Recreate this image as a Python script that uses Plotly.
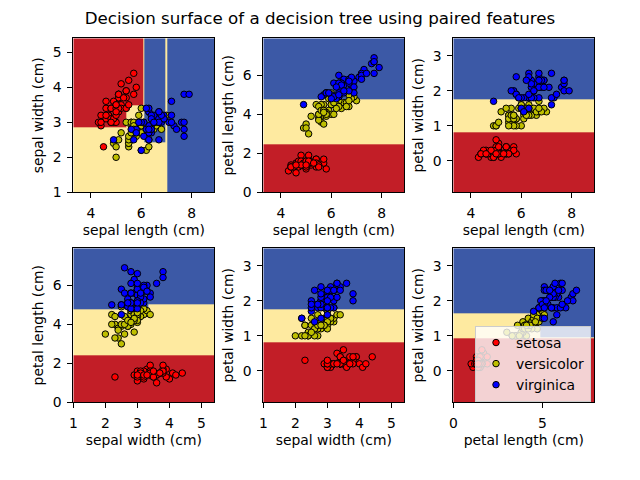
import plotly.graph_objects as go

# ---------------- data: iris dataset ----------------
feature_names = ["sepal length (cm)", "sepal width (cm)", "petal length (cm)", "petal width (cm)"]
species_names = ["setosa", "versicolor", "virginica"]

setosa_sepal_length = [5.1, 4.9, 4.7, 4.6, 5.0, 5.4, 4.6, 5.0, 4.4, 4.9, 5.4, 4.8, 4.8, 4.3, 5.8, 5.7, 5.4, 5.1, 5.7, 5.1,
                       5.4, 5.1, 4.6, 5.1, 4.8, 5.0, 5.0, 5.2, 5.2, 4.7, 4.8, 5.4, 5.2, 5.5, 4.9, 5.0, 5.5, 4.9, 4.4, 5.1,
                       5.0, 4.5, 4.4, 5.0, 5.1, 4.8, 5.1, 4.6, 5.3, 5.0]
setosa_sepal_width = [3.5, 3.0, 3.2, 3.1, 3.6, 3.9, 3.4, 3.4, 2.9, 3.1, 3.7, 3.4, 3.0, 3.0, 4.0, 4.4, 3.9, 3.5, 3.8, 3.8,
                      3.4, 3.7, 3.6, 3.3, 3.4, 3.0, 3.4, 3.5, 3.4, 3.2, 3.1, 3.4, 4.1, 4.2, 3.1, 3.2, 3.5, 3.6, 3.0, 3.4,
                      3.5, 2.3, 3.2, 3.5, 3.8, 3.0, 3.8, 3.2, 3.7, 3.3]
setosa_petal_length = [1.4, 1.4, 1.3, 1.5, 1.4, 1.7, 1.4, 1.5, 1.4, 1.5, 1.5, 1.6, 1.4, 1.1, 1.2, 1.5, 1.3, 1.4, 1.7, 1.5,
                       1.7, 1.5, 1.0, 1.7, 1.9, 1.6, 1.6, 1.5, 1.4, 1.6, 1.6, 1.5, 1.5, 1.4, 1.5, 1.2, 1.3, 1.4, 1.3, 1.5,
                       1.3, 1.3, 1.3, 1.6, 1.9, 1.4, 1.6, 1.4, 1.5, 1.4]
setosa_petal_width = [0.2, 0.2, 0.2, 0.2, 0.2, 0.4, 0.3, 0.2, 0.2, 0.1, 0.2, 0.2, 0.1, 0.1, 0.2, 0.4, 0.4, 0.3, 0.3, 0.3,
                      0.2, 0.4, 0.2, 0.5, 0.2, 0.2, 0.4, 0.2, 0.2, 0.2, 0.2, 0.4, 0.1, 0.2, 0.2, 0.2, 0.2, 0.1, 0.2, 0.2,
                      0.3, 0.3, 0.2, 0.6, 0.4, 0.3, 0.2, 0.2, 0.2, 0.2]

versicolor_sepal_length = [7.0, 6.4, 6.9, 5.5, 6.5, 5.7, 6.3, 4.9, 6.6, 5.2, 5.0, 5.9, 6.0, 6.1, 5.6, 6.7, 5.6, 5.8, 6.2, 5.6,
                           5.9, 6.1, 6.3, 6.1, 6.4, 6.6, 6.8, 6.7, 6.0, 5.7, 5.5, 5.5, 5.8, 6.0, 5.4, 6.0, 6.7, 6.3, 5.6, 5.5,
                           5.5, 6.1, 5.8, 5.0, 5.6, 5.7, 5.7, 6.2, 5.1, 5.7]
versicolor_sepal_width = [3.2, 3.2, 3.1, 2.3, 2.8, 2.8, 3.3, 2.4, 2.9, 2.7, 2.0, 3.0, 2.2, 2.9, 2.9, 3.1, 3.0, 2.7, 2.2, 2.5,
                          3.2, 2.8, 2.5, 2.8, 2.9, 3.0, 2.8, 3.0, 2.9, 2.6, 2.4, 2.4, 2.7, 2.7, 3.0, 3.4, 3.1, 2.3, 3.0, 2.5,
                          2.6, 3.0, 2.6, 2.3, 2.7, 3.0, 2.9, 2.9, 2.5, 2.8]
versicolor_petal_length = [4.7, 4.5, 4.9, 4.0, 4.6, 4.5, 4.7, 3.3, 4.6, 3.9, 3.5, 4.2, 4.0, 4.7, 3.6, 4.4, 4.5, 4.1, 4.5, 3.9,
                           4.8, 4.0, 4.9, 4.7, 4.3, 4.4, 4.8, 5.0, 4.5, 3.5, 3.8, 3.7, 3.9, 5.1, 4.5, 4.5, 4.7, 4.4, 4.1, 4.0,
                           4.4, 4.6, 4.0, 3.3, 4.2, 4.2, 4.2, 4.3, 3.0, 4.1]
versicolor_petal_width = [1.4, 1.5, 1.5, 1.3, 1.5, 1.3, 1.6, 1.0, 1.3, 1.4, 1.0, 1.5, 1.0, 1.4, 1.3, 1.4, 1.5, 1.0, 1.5, 1.1,
                          1.8, 1.3, 1.5, 1.2, 1.3, 1.4, 1.4, 1.7, 1.5, 1.0, 1.1, 1.0, 1.2, 1.6, 1.5, 1.6, 1.5, 1.3, 1.3, 1.3,
                          1.2, 1.4, 1.2, 1.0, 1.3, 1.2, 1.3, 1.3, 1.1, 1.3]

virginica_sepal_length = [6.3, 5.8, 7.1, 6.3, 6.5, 7.6, 4.9, 7.3, 6.7, 7.2, 6.5, 6.4, 6.8, 5.7, 5.8, 6.4, 6.5, 7.7, 7.7, 6.0,
                          6.9, 5.6, 7.7, 6.3, 6.7, 7.2, 6.2, 6.1, 6.4, 7.2, 7.4, 7.9, 6.4, 6.3, 6.1, 7.7, 6.3, 6.4, 6.0, 6.9,
                          6.7, 6.9, 5.8, 6.8, 6.7, 6.7, 6.3, 6.5, 6.2, 5.9]
virginica_sepal_width = [3.3, 2.7, 3.0, 2.9, 3.0, 3.0, 2.5, 2.9, 2.5, 3.6, 3.2, 2.7, 3.0, 2.5, 2.8, 3.2, 3.0, 3.8, 2.6, 2.2,
                         3.2, 2.8, 2.8, 2.7, 3.3, 3.2, 2.8, 3.0, 2.8, 3.0, 2.8, 3.8, 2.8, 2.8, 2.6, 3.0, 3.4, 3.1, 3.0, 3.1,
                         3.1, 3.1, 2.7, 3.2, 3.3, 3.0, 2.5, 3.0, 3.4, 3.0]
virginica_petal_length = [6.0, 5.1, 5.9, 5.6, 5.8, 6.6, 4.5, 6.3, 5.8, 6.1, 5.1, 5.3, 5.5, 5.0, 5.1, 5.3, 5.5, 6.7, 6.9, 5.0,
                          5.7, 4.9, 6.7, 4.9, 5.7, 6.0, 4.8, 4.9, 5.6, 5.8, 6.1, 6.4, 5.6, 5.1, 5.6, 6.1, 5.6, 5.5, 4.8, 5.4,
                          5.6, 5.1, 5.1, 5.9, 5.7, 5.2, 5.0, 5.2, 5.4, 5.1]
virginica_petal_width = [2.5, 1.9, 2.1, 1.8, 2.2, 2.1, 1.7, 1.8, 1.8, 2.5, 2.0, 1.9, 2.1, 2.0, 2.4, 2.3, 1.8, 2.2, 2.3, 1.5,
                         2.3, 2.0, 2.0, 1.8, 2.1, 1.8, 1.8, 1.8, 2.1, 1.6, 1.9, 2.0, 2.2, 1.5, 1.4, 2.3, 2.4, 1.8, 1.8, 2.1,
                         2.4, 2.3, 1.9, 2.3, 2.5, 2.3, 1.9, 2.0, 2.3, 1.8]

species_features = [
    [setosa_sepal_length, setosa_sepal_width, setosa_petal_length, setosa_petal_width],
    [versicolor_sepal_length, versicolor_sepal_width, versicolor_petal_length, versicolor_petal_width],
    [virginica_sepal_length, virginica_sepal_width, virginica_petal_length, virginica_petal_width],
]

feature_pairs = [[0, 1], [0, 2], [0, 3], [1, 2], [1, 3], [2, 3]]

# ---------------- decision surfaces (split thresholds + predicted class per cell) ----------------
# class: 0 setosa, 1 versicolor, 2 virginica ; rows = y intervals (bottom->top), cols = x intervals
surface_x_splits = [
    [5.4, 6.08, 6.12, 6.97, 7.05],
    [],
    [],
    [3.35],
    [],
    [4.85],
]
surface_y_splits = [
    [2.42, 2.85, 3.5],
    [2.45, 4.78],
    [0.82, 1.75],
    [2.43, 4.77, 5.05],
    [0.82, 1.75],
    [0.92, 0.96, 1.65],
]
surface_classes = [
    [[1, 1, 1, 1, 1, 2], [1, 1, 1, 2, 1, 2], [0, 1, 1, 2, 1, 2], [0, 0, 1, 2, 1, 2]],
    [[0], [1], [2]],
    [[0], [1], [2]],
    [[0, 0], [1, 1], [2, 1], [2, 2]],
    [[0], [1], [2]],
    [[0, 0], [1, 1], [1, 2], [2, 2]],
]

# ---------------- styles ----------------
FONT = "DejaVu Sans"
SURF_RED, SURF_YEL, SURF_BLUE = "#c21e27", "#feeaa0", "#3c59a6"
point_colors = ["#ff0000", "#bfbf00", "#0000ff"]

W, H = 640, 480
col_px = [(73.3, 214.3), (263.3, 404.3), (453.3, 594.3)]
row_px = [(38.3, 192.3), (248.3, 402.3)]
dticks = [2, 1, 2, 1]
dticks_x = {5: 5}  # petal length on x axis of 6th panel

fig = go.Figure()

for k, (fx, fy) in enumerate(feature_pairs):
    i = k + 1
    xa = "x" if i == 1 else f"x{i}"
    ya = "y" if i == 1 else f"y{i}"

    allx = sum((sp[fx] for sp in species_features), [])
    ally = sum((sp[fy] for sp in species_features), [])
    xr = [min(allx) - 1.0, max(allx) + 1.0]
    yr = [min(ally) - 1.0, max(ally) + 1.0]

    xedges = [xr[0]] + surface_x_splits[k] + [xr[1]]
    yedges = [yr[0]] + surface_y_splits[k] + [yr[1]]

    fig.add_trace(go.Heatmap(
        x=xedges, y=yedges, z=surface_classes[k],
        zmin=0, zmax=2,
        colorscale=[[0, SURF_RED], [0.5, SURF_YEL], [1, SURF_BLUE]],
        showscale=False, hoverinfo="skip",
        xaxis=xa, yaxis=ya,
    ))

    for s in range(3):
        fig.add_trace(go.Scatter(
            x=species_features[s][fx], y=species_features[s][fy],
            mode="markers",
            marker=dict(color=point_colors[s], size=6.5, line=dict(color="black", width=1)),
            name=species_names[s],
            showlegend=(i == 6),
            legendgroup=species_names[s],
            xaxis=xa, yaxis=ya,
        ))

    r, c = divmod(k, 3)
    xdom = [col_px[c][0] / W, col_px[c][1] / W]
    ydom = [1 - row_px[r][1] / H, 1 - row_px[r][0] / H]

    axis_common = dict(
        showgrid=False, zeroline=False, automargin=False,
        showline=True, mirror=True, linecolor="black", linewidth=1,
        ticks="outside", ticklen=5, tickwidth=1, tickcolor="black",
        tickfont=dict(family=FONT, size=13.9, color="black"),
        ticklabelstandoff=3,
    )
    xaxis = dict(axis_common, domain=xdom, anchor=ya, range=xr,
                 tick0=0, dtick=dticks_x.get(k, dticks[fx]),
                 title=dict(text=feature_names[fx], font=dict(family=FONT, size=13.9, color="black"), standoff=5))
    yaxis = dict(axis_common, domain=ydom, anchor=xa, range=yr,
                 tick0=0, dtick=dticks[fy],
                 title=dict(text=feature_names[fy], font=dict(family=FONT, size=13.9, color="black"), standoff=5))
    fig.layout["xaxis" if i == 1 else f"xaxis{i}"] = xaxis
    fig.layout["yaxis" if i == 1 else f"yaxis{i}"] = yaxis

fig.update_layout(
    width=W, height=H,
    margin=dict(l=0, r=0, t=0, b=0, autoexpand=False),
    paper_bgcolor="white", plot_bgcolor="white",
    font=dict(family=FONT, color="black"),
    title=dict(text="Decision surface of a decision tree using paired features",
               x=0.5, xanchor="center", xref="paper", y=1 - 18 / H, yanchor="middle", yref="container",
               font=dict(family=FONT, size=16.7, color="black")),
    legend=dict(
        x=591 / W, xanchor="right", y=1 - 402 / H, yanchor="bottom",
        bgcolor="rgba(255,255,255,0.8)", bordercolor="#cccccc", borderwidth=1,
        font=dict(family=FONT, size=13.9, color="black"),
        tracegroupgap=0,
    ),
    showlegend=True,
)

fig.write_html(
    "out.html",
    config={"displayModeBar": False},
    post_script="document.body.style.margin='0';document.body.style.overflow='hidden';",
)
